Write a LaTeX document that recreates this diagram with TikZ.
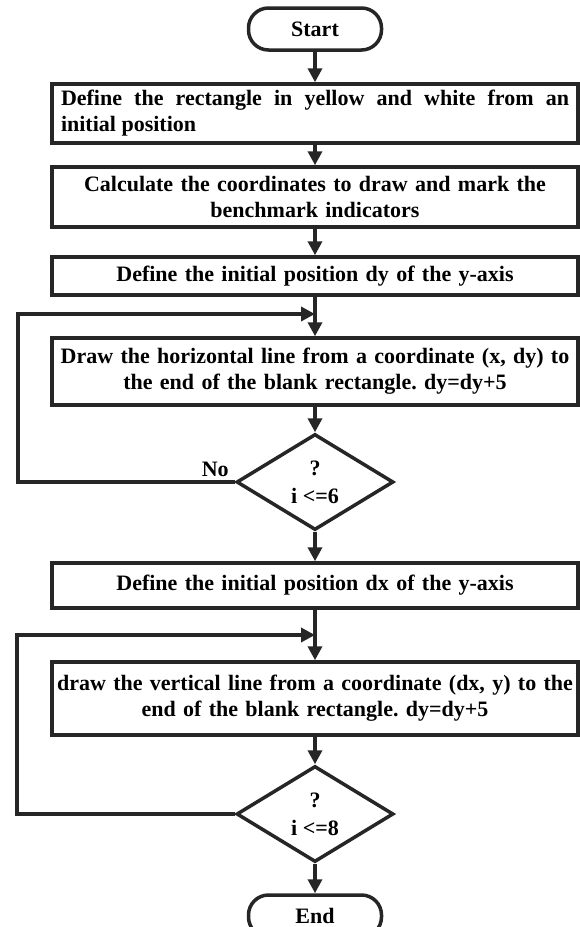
\documentclass[tikz,border=0pt]{standalone}
\usepackage{fontspec}
\setmainfont{Liberation Serif}
\usetikzlibrary{arrows.meta, shapes.geometric}
\definecolor{ink}{HTML}{262626}
\frenchspacing

\begin{document}
\begin{tikzpicture}[x=1pt, y=-1pt,
  every node/.style={font=\bfseries\fontsize{22}{26}\selectfont},
  outline/.style={draw=ink, line width=3.5pt},
  proc/.style={outline, rectangle, text width=518pt, inner xsep=4pt, align=center},
  term/.style={outline, rectangle, rounded corners=20pt, minimum width=133pt, minimum height=42pt},
  decide/.style={outline, diamond, aspect=1.6, minimum width=157pt, minimum height=96pt,
    inner sep=0pt, align=center, font=\bfseries\fontsize{22}{28}\selectfont},
  flow/.style={draw=ink, line width=3.5pt, -{Triangle[length=14pt,width=14pt]}}]
\useasboundingbox (0,0) rectangle (579,927);

\node[term] (start) at (315,29) {Start};
\node[proc, minimum height=59pt, align=justify, text width=508pt, inner xsep=9pt] (b1) at (315,113.5)
  {Define the rectangle in yellow and white from an\linebreak initial position};
\node[proc, minimum height=60pt] (b2) at (315,197)
  {Calculate the coordinates to draw and mark the\\ benchmark indicators};
\node[proc, minimum height=38pt] (b3) at (315,276)
  {Define the initial position dy of the y-axis};
\node[proc, minimum height=67pt] (b4) at (315,371.5)
  {Draw the horizontal line from a coordinate (x, dy) to\\ the end of the blank rectangle. dy=dy+5};
\node[decide] (d1) at (315,482) {?\\ i <=6};
\node[proc, minimum height=45pt] (b5) at (315,585.5)
  {Define the initial position dx of the y-axis};
\node[proc, minimum height=73pt] (b6) at (315,698.5)
  {draw the vertical line from a coordinate (dx, y) to the\\ end of the blank rectangle. dy=dy+5};
\node[decide] (d2) at (315,814) {?\\ i <=8};
\node[term] (end) at (315,916) {End};

\coordinate (j1) at (315,314);
\coordinate (c1) at (18,482);
\coordinate (j2) at (315,635);
\coordinate (c2) at (17,814);

\draw[flow] (start) -- (b1);
\draw[flow] (b1) -- (b2);
\draw[flow] (b2) -- (b3);
\draw[flow] (b3) -- (b4);
\draw[flow] (b4) -- (d1);
\draw[flow] (d1.west) -- node[pos=0.09, above] {No} (c1) |- (j1);
\draw[flow] (d1) -- (b5);
\draw[flow] (b5) -- (b6);
\draw[flow] (b6) -- (d2);
\draw[flow] (d2.west) -- (c2) |- (j2);
\draw[flow] (d2) -- (end);
\end{tikzpicture}
\end{document}
